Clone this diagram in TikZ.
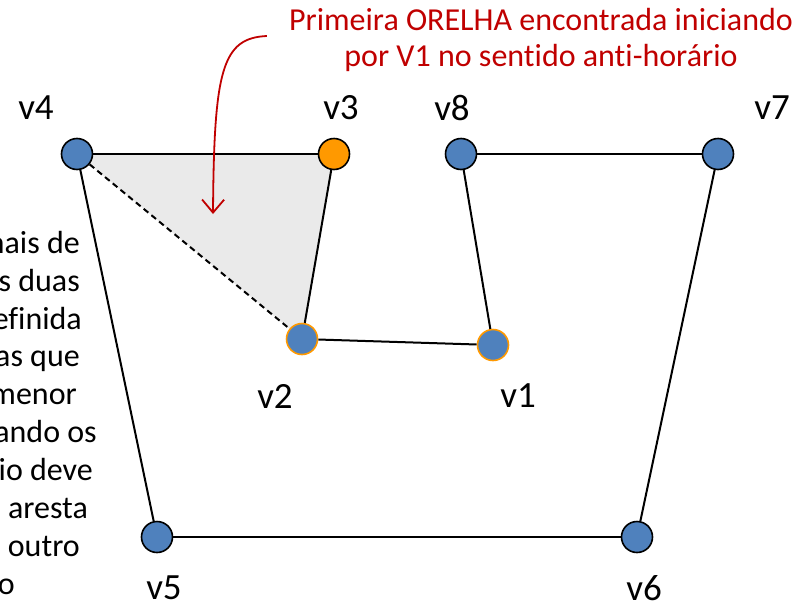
\documentclass[tikz,border=0pt]{standalone}
\usepackage{fontspec}
\setmainfont{Carlito}[Ligatures=NoCommon]
\usetikzlibrary{arrows.meta,positioning,backgrounds}
\definecolor{azul}{RGB}{79,129,189}
\definecolor{laranja}{RGB}{255,153,0}
\definecolor{vermelho}{RGB}{192,0,0}
\definecolor{cinza}{RGB}{234,234,234}

\begin{document}
\begin{tikzpicture}[x=1pt, y=-1pt,
    vtx/.style={circle, draw=black, fill=azul, line width=1.6pt, minimum size=31pt, inner sep=0pt},
    marca/.style={vtx, draw=laranja},
    orelha/.style={vtx, fill=laranja},
    aresta/.style={line width=2pt},
    lbl/.style={font=\fontsize{37}{40}\selectfont, inner sep=0pt},
    nota/.style={font=\fontsize{32}{36}\selectfont, text=vermelho, align=center, inner sep=0pt},
    txt/.style={font=\fontsize{32}{38}\selectfont, anchor=base east, inner sep=0pt},
    seta/.style={draw=vermelho, line width=1.8pt, -{Straight Barb[length=13pt, width=22pt]}}]
    \path [use as bounding box] (0,0) rectangle (810,608);

    % vertices
    \node [vtx] (v4) at (77,154) {};
    \node [orelha] (v3) at (334,154) {};
    \node [vtx] (v8) at (461,154) {};
    \node [vtx] (v7) at (718,154) {};
    \node [marca] (v2) at (302,339) {};
    \node [marca] (v1) at (493,345) {};
    \node [vtx] (v5) at (157,537) {};
    \node [vtx] (v6) at (637,537) {};

    % rotulos
    \foreach \v/\x/\y in {v4/36/108, v3/341/108, v8/452/108, v7/772/108,
                          v2/275/396, v1/518/396, v5/164/588, v6/644/588}
        \node [lbl] (l\v) at (\x,\y) {\v};

    % orelha
    \begin{pgfonlayer}{background}
        \fill [cinza] (v4.center) -- (v3.center) -- (v2.center) -- cycle;
    \end{pgfonlayer}
    \draw [aresta, dash pattern=on 6pt off 4pt] (v4) -- (v2);

    % poligono
    \draw [aresta] (v4) -- (v3);
    \draw [aresta] (v3) -- (v2);
    \draw [aresta] (v2) -- (v1);
    \draw [aresta] (v1) -- (v8);
    \draw [aresta] (v8) -- (v7);
    \draw [aresta] (v7) -- (v6);
    \draw [aresta] (v6) -- (v5);
    \draw [aresta] (v5) -- (v4);

    % nota
    \node [nota] (aviso) at (541,40) {Primeira ORELHA encontrada iniciando\\por V1 no sentido anti-horário};
    \coordinate (alvo) at (213,214);
    \draw [seta] ([shift={(-22,-4)}]aviso.west) .. controls (222,38) and (214,70) .. (alvo);

    % texto cortado a esquerda
    \begin{scope}
        \clip (0,0) rectangle (810,608);
        \foreach \t/\x/\y [count=\i] in {mais de/80/253, s duas/80/291, efinida/82/329, as que/80/366,
                              menor/77/404, ando os/97/442, io deve/93/480, a aresta/88/518,
                              outro/80/556, o/15/594}
            \node [txt] (t\i) at (\x,\y) {\t};
    \end{scope}
\end{tikzpicture}
\end{document}
